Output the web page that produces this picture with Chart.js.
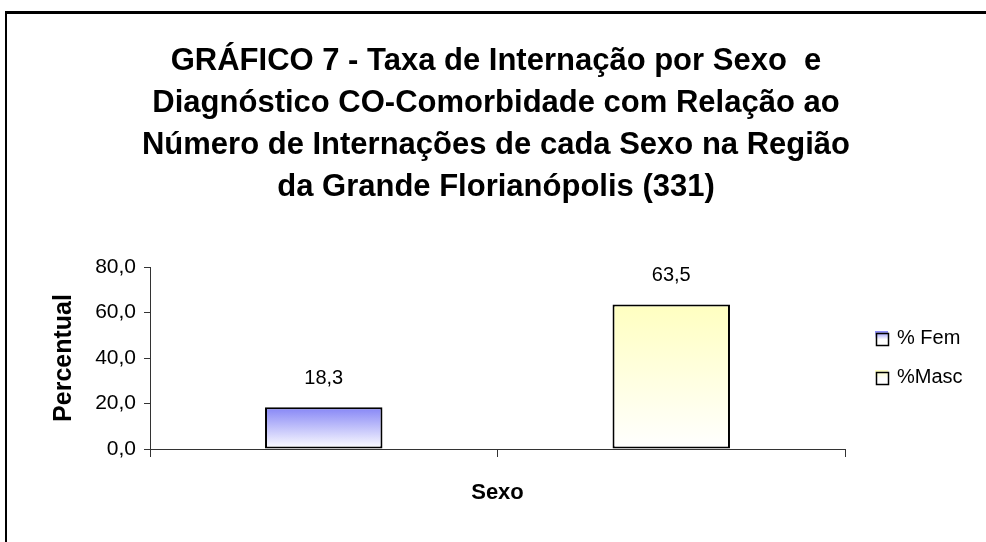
<!DOCTYPE html>
<html><head><meta charset="utf-8">
<script src="https://cdn.jsdelivr.net/npm/chart.js@4"></script>
<style>html,body{margin:0;padding:0;background:#fff}#wrap{width:986px;height:542px}</style>
</head><body><div id="wrap"><canvas id="c" width="986" height="542"></canvas></div>
<script>
const categories = ['Feminino', 'Masculino'];
const seriesNames = ['% Fem', '%Masc'];
const femValues = [18.3, null];
const mascValues = [null, 63.5];
const yMin = 0, yMax = 80, yStep = 20;
const titleLines = ['GRÁFICO 7 - Taxa de Internação por Sexo  e', 'Diagnóstico CO-Comorbidade com Relação ao', 'Número de Internações de cada Sexo na Região', 'da Grande Florianópolis (331)'];
const yAxisTitle = 'Percentual';
const xAxisTitle = 'Sexo';
const seriesTopColors = ['#8686f6', '#ffffc0'];

Chart.defaults.font.family = '"Liberation Sans", Arial, sans-serif';
Chart.defaults.color = '#000';

const fmt = v => v.toFixed(1).replace('.', ',');

function barGradient(idx) {
  return ctx => {
    const chart = ctx.chart;
    if (!chart.chartArea || ctx.raw == null) return seriesTopColors[idx];
    const ys = chart.scales.y;
    const g = chart.ctx.createLinearGradient(0, ys.getPixelForValue(ctx.raw), 0, ys.getPixelForValue(0));
    g.addColorStop(0, seriesTopColors[idx]);
    g.addColorStop(1, '#ffffff');
    return g;
  };
}

const framePlugin = {
  id: 'frame',
  beforeDraw(chart) {
    const c = chart.ctx;
    c.save();
    c.fillStyle = '#fff';
    c.fillRect(0, 0, chart.width, chart.height);
    c.fillStyle = '#000';
    c.fillRect(5, 11, chart.width - 5, 3);
    c.fillRect(5, 11, 2, chart.height - 11);
    c.restore();
  }
};

const labelPlugin = {
  id: 'valueLabels',
  afterDatasetsDraw(chart) {
    const c = chart.ctx;
    c.save();
    c.font = '20px "Liberation Sans", Arial, sans-serif';
    c.fillStyle = '#000';
    c.textAlign = 'center';
    c.textBaseline = 'middle';
    chart.data.datasets.forEach((ds, di) => {
      chart.getDatasetMeta(di).data.forEach((el, i) => {
        const v = ds.data[i];
        if (v == null) return;
        c.fillText(fmt(v), el.x, el.y - 29);
      });
    });
    c.restore();
  }
};

const legendPlugin = {
  id: 'sideLegend',
  afterDraw(chart) {
    const c = chart.ctx;
    c.save();
    c.font = '20px "Liberation Sans", Arial, sans-serif';
    c.textBaseline = 'middle';
    c.textAlign = 'left';
    chart.data.datasets.forEach((ds, i) => {
      const bx = 876, by = 333 + i * 39;
      const g = c.createLinearGradient(0, by - 2, 0, by + 12);
      g.addColorStop(0, seriesTopColors[i]);
      g.addColorStop(0.6, '#ffffff');
      c.fillStyle = g;
      c.fillRect(bx - 1, by - 2, 13, 14);
      c.strokeStyle = '#000';
      c.lineWidth = 1.5;
      c.strokeRect(bx + 0.5, by + 0.5, 12, 12);
      c.fillStyle = '#000';
      c.fillText(ds.label, 897, by + 5);
    });
    c.restore();
  }
};

new Chart(document.getElementById('c'), {
  type: 'bar',
  data: {
    labels: categories,
    datasets: [
      { label: seriesNames[0], data: femValues, backgroundColor: barGradient(0), borderColor: '#000', borderWidth: 2, borderSkipped: false },
      { label: seriesNames[1], data: mascValues, backgroundColor: barGradient(1), borderColor: '#000', borderWidth: 2, borderSkipped: false }
    ]
  },
  options: {
    responsive: false,
    animation: false,
    barPercentage: 0.338,
    categoryPercentage: 1.0,
    layout: { padding: { left: 6, right: 0, top: 0, bottom: 0 } },
    plugins: {
      legend: { display: false },
      tooltip: { enabled: false },
      title: {
        display: true,
        text: titleLines,
        color: '#000',
        font: { size: 31, weight: 'bold', lineHeight: '42px' },
        padding: { top: 40, bottom: 59 }
      }
    },
    scales: {
      x: {
        stacked: true,
        offset: true,
        ticks: { display: false },
        grid: { display: true, drawOnChartArea: false, drawTicks: true, tickLength: 8, color: '#333', offset: true },
        border: { display: true, color: '#333', width: 1 },
        title: { display: true, text: xAxisTitle, color: '#000', font: { size: 22, weight: 'bold', lineHeight: 1.2 }, padding: { top: 0, bottom: 36 } },
        afterFit: s => { s.height = 93; }
      },
      y: {
        stacked: false,
        min: yMin, max: yMax,
        ticks: { stepSize: yStep, padding: 8, color: '#000', font: { size: 21 }, callback: v => fmt(v) },
        grid: { display: true, drawOnChartArea: false, drawTicks: true, tickLength: 6, color: '#333' },
        border: { display: true, color: '#333', width: 1 },
        title: { display: true, text: yAxisTitle, color: '#000', font: { size: 25, weight: 'bold', lineHeight: 1.2 }, padding: { top: 43, bottom: 0 } },
        afterFit: s => { s.width = 144; }
      },
      side: {
        type: 'linear',
        position: 'right',
        display: true,
        ticks: { display: false },
        grid: { display: false },
        border: { display: false },
        afterFit: s => { s.width = 141; }
      }
    }
  },
  plugins: [framePlugin, labelPlugin, legendPlugin]
});
</script>
</body></html>
